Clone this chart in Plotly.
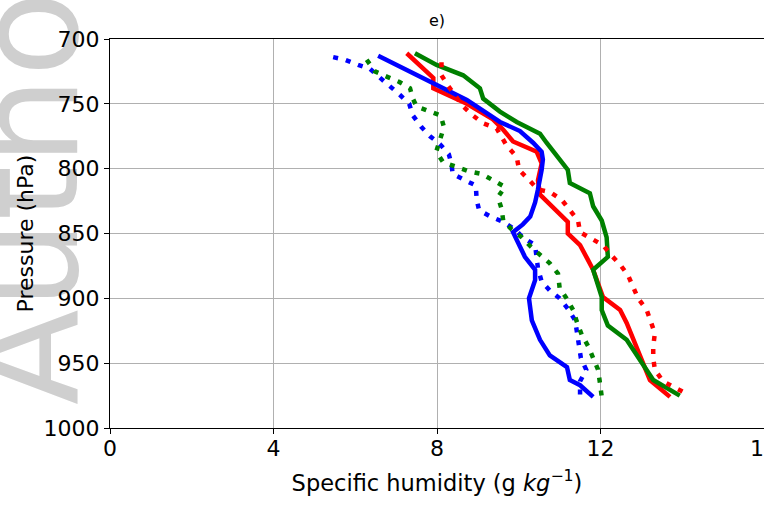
import plotly.graph_objects as go

# ---- data (specific humidity g/kg vs pressure hPa) ----
q_blue_solid = [6.56, 8.73, 9.54, 10.03, 10.35, 10.56, 10.59, 10.56, 10.47, 10.40, 10.28, 10.10, 9.86,
                10.15, 10.40, 10.40, 10.25, 10.32, 10.52, 10.76, 11.18, 11.25, 11.50, 11.82]
p_blue_solid = [713, 747, 764, 771, 780, 787, 793, 801, 816, 826, 837, 843, 849,
                868, 878, 886, 900, 917, 932, 944, 953, 963, 967, 976]

q_red_solid = [7.26, 7.75, 7.91, 7.91, 8.73, 9.37, 9.62, 9.86, 10.44, 10.56, 10.47, 10.52, 10.84,
               11.20, 11.20, 11.50, 11.67, 11.82, 12.06, 12.48, 12.64, 12.97, 13.21, 13.70]
p_red_solid = [711, 725, 730, 738, 750, 762, 770, 779, 787, 796, 809, 820, 830,
               841, 850, 859, 869, 878, 899, 909, 919, 945, 963, 976]

q_green_solid = [7.46, 7.99, 8.64, 9.05, 9.13, 9.54, 9.95, 10.52, 10.68, 11.20, 11.25, 11.74, 11.82,
                 12.03, 12.15, 12.18, 11.82, 12.03, 12.03, 12.18, 12.64, 13.29, 13.94]
p_green_solid = [711, 720, 728, 738, 746, 756, 764, 773, 780, 801, 811, 819, 829,
                 840, 853, 868, 878, 899, 909, 921, 932, 963, 975]

q_blue_dot = [5.46, 5.75, 6.07, 6.36, 6.61, 6.85, 7.09, 7.32, 7.41, 7.62, 7.83, 8.07, 8.29, 8.36,
              8.38, 8.69, 8.95, 8.97, 9.03, 9.31, 9.62, 9.91, 10.10, 10.40, 10.47, 10.56, 10.76,
              11.00, 11.20, 11.38, 11.42, 11.47, 11.52, 11.65, 11.50, 11.50]
p_blue_dot = [714, 716, 720, 723, 730, 736, 743, 750, 759, 768, 775, 781, 789, 797,
              804, 809, 813, 824, 832, 837, 841, 847, 853, 859, 877, 887, 894,
              900, 908, 917, 926, 936, 946, 955, 964, 975]

q_green_dot = [6.28, 6.48, 6.77, 7.07, 7.34, 7.41, 7.50, 7.78, 8.09, 8.17, 8.07, 7.98, 8.15, 8.46,
               8.78, 9.09, 9.37, 9.66, 9.49, 9.58, 9.62, 9.83, 10.08, 10.29, 10.54, 10.76, 10.96,
               11.00, 11.17, 11.33, 11.42, 11.54, 11.70, 11.82, 11.94, 11.99, 12.03]
p_green_dot = [716, 725, 729, 733, 738, 746, 752, 755, 759, 768, 777, 787, 795, 798,
               802, 804, 809, 814, 822, 831, 840, 847, 853, 860, 867, 873, 881,
               892, 900, 909, 918, 928, 937, 946, 955, 966, 976]

q_red_dot = [8.11, 8.11, 8.27, 8.64, 8.88, 9.13, 9.46, 9.70, 9.95, 10.01, 10.23, 10.47, 10.76,
             11.05, 11.25, 11.45, 11.50, 11.78, 12.06, 12.27, 12.48, 12.67, 12.92, 13.13, 13.33,
             13.29, 13.29, 13.33, 13.53, 13.77, 14.02]
p_red_dot = [718, 728, 736, 752, 759, 765, 769, 782, 791, 801, 808, 816, 818,
             824, 832, 840, 849, 854, 859, 867, 874, 882, 900, 909, 927,
             937, 946, 955, 964, 968, 972]

x_ticks = [0, 4, 8, 12, 16]
y_ticks = [700, 750, 800, 850, 900, 950, 1000]

FONT = "DejaVu Sans"
LW = 4.5
DOT = "5px,8px"

fig = go.Figure()
series = [
    (q_red_solid, p_red_solid, "red", "solid"),
    (q_blue_solid, p_blue_solid, "blue", "solid"),
    (q_green_solid, p_green_solid, "green", "solid"),
    (q_red_dot, p_red_dot, "red", DOT),
    (q_blue_dot, p_blue_dot, "blue", DOT),
    (q_green_dot, p_green_dot, "green", DOT),
]
for q, p, c, d in series:
    fig.add_trace(go.Scatter(x=q, y=p, mode="lines",
                             line=dict(color=c, width=LW, dash=d),
                             showlegend=False, hoverinfo="skip"))

# watermark, drawn below axes and labels via a shape label
L, W, B, H = 110, 654, 428, 389
def px_x(v):
    return (v - L) / W
def px_y(v):
    return (B - v) / H

wm_cx, wm_cy = 18, 198
fig.add_shape(type="rect", xref="paper", yref="paper", layer="below",
              x0=px_x(wm_cx - 60), x1=px_x(wm_cx + 60),
              y0=px_y(wm_cy + 230), y1=px_y(wm_cy - 230),
              line=dict(width=0), fillcolor="rgba(0,0,0,0)",
              label=dict(text="Autho", textangle=-90, textposition="middle center",
                         font=dict(family=FONT, size=140, color="#cfcfcf")))

axis_common = dict(showline=True, linecolor="black", linewidth=1.2,
                   showgrid=True, gridcolor="#b0b0b0", gridwidth=1,
                   ticks="outside", ticklen=5, tickcolor="black", tickwidth=1.2,
                   zeroline=False, ticklabeloverflow="allow", automargin=False,
                   tickfont=dict(family=FONT, size=22, color="black"))

fig.update_layout(
    width=764, height=506,
    margin=dict(l=110, r=0, t=39, b=78, autoexpand=False),
    paper_bgcolor="white", plot_bgcolor="white",
    font=dict(family=FONT, color="black"),
    title=dict(text="e)", x=437 / 764, xanchor="center",
               y=1 - 20 / 506, yanchor="middle",
               font=dict(family=FONT, size=16, color="black")),
    xaxis=dict(range=[0, 16], tickvals=x_ticks, ticktext=[str(v) for v in x_ticks],
               mirror=True, ticklabelstandoff=-5,
               title=dict(text="Specific humidity (g <i>kg</i><sup>−1</sup>)",
                          font=dict(family=FONT, size=22.5, color="black"), standoff=15),
               **axis_common),
    yaxis=dict(range=[1000, 700], tickvals=y_ticks, ticktext=[str(v) for v in y_ticks],
               mirror=False,
               title=dict(text="Pressure (hPa)",
                          font=dict(family=FONT, size=22, color="black"), standoff=3),
               **axis_common),
)

fig.write_html("out.html")
